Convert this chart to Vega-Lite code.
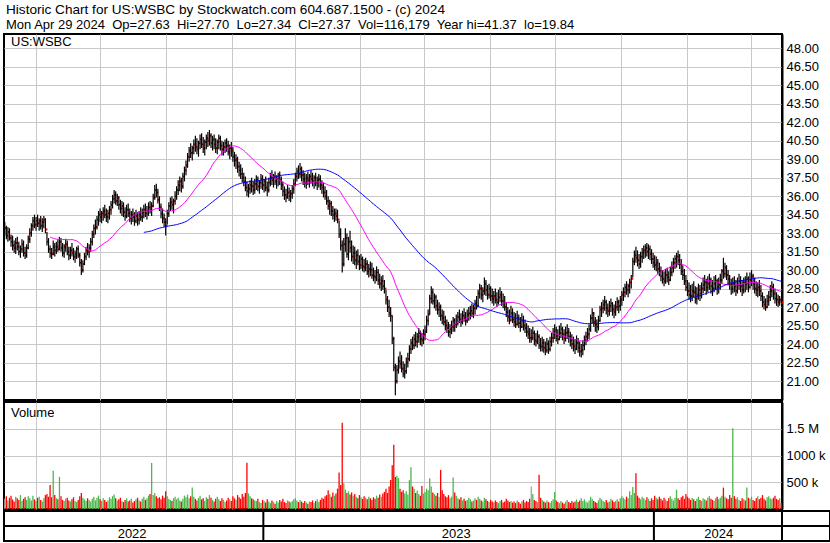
{
"$schema":"https://vega.github.io/schema/vega-lite/v6.json",
"background":"white",
"padding":{"left":2,"top":3,"right":2,"bottom":2},
"spacing":2,
"bounds":"flush",
"config":{"font":"Liberation Sans","view":{"stroke":"black","strokeWidth":2},
"axis":{"gridColor":"#c8c8c8","gridWidth":1,"gridOpacity":1,"labelFont":"Liberation Sans","labelFontSize":13,"labelColor":"black","ticks":false,"tickSize":0,"domain":false,"title":null,"labelOverlap":false,"labelSeparation":-60},
"axisY":{"labelOverlap":false,"labelSeparation":-60},
"axisRight":{"labelOverlap":false,"labelSeparation":-60}},
"title":{"text":"Historic Chart for US:WSBC by Stockwatch.com 604.687.1500 - (c) 2024","subtitle":"Mon Apr 29 2024\u00a0 Op=27.63\u00a0 Hi=27.70\u00a0 Lo=27.34\u00a0 Cl=27.37\u00a0 Vol=116,179\u00a0 Year hi=41.37\u00a0 lo=19.84","anchor":"start","frame":"group","font":"Liberation Sans","fontSize":13.6,"fontWeight":"normal","color":"black","subtitleFont":"Liberation Sans","subtitleFontSize":13,"subtitleColor":"black","subtitlePadding":2,"offset":1,"dx":2},
"datasets":{
"yr":[{"y":"2022","m":81.5,"e":165.5},{"y":"2023","m":289,"e":415.5},{"y":"2024","m":457,"e":497.5}],
"px":[
{"i":0,"h":33.9,"l":32.8,"c":33.4,"v":190},{"i":1,"h":33.6,"l":32.5,"c":32.8,"v":240},{"i":2,"h":33.5,"l":32.3,"c":33.1,"v":160},{"i":3,"h":33.4,"l":32.4,"c":32.6,"v":210},{"i":4,"h":32.9,"l":31.9,"c":32.3,"v":250},{"i":5,"h":32.8,"l":31.6,"c":32.0,"v":180},{"i":6,"h":32.4,"l":31.4,"c":31.8,"v":140},{"i":7,"h":32.6,"l":31.3,"c":32.2,"v":230},{"i":8,"h":32.7,"l":31.6,"c":31.9,"v":200},{"i":9,"h":32.3,"l":31.2,"c":31.5,"v":170},
{"i":10,"h":32.0,"l":31.0,"c":31.7,"v":260},{"i":11,"h":32.5,"l":31.4,"c":32.1,"v":150},{"i":12,"h":32.4,"l":31.1,"c":31.4,"v":190},{"i":13,"h":31.9,"l":30.9,"c":31.2,"v":220},{"i":14,"h":32.1,"l":31.0,"c":31.8,"v":170},{"i":15,"h":32.8,"l":31.7,"c":32.5,"v":240},{"i":16,"h":33.4,"l":32.2,"c":33.0,"v":200},{"i":17,"h":33.8,"l":32.7,"c":33.6,"v":160},{"i":18,"h":34.3,"l":33.2,"c":34.0,"v":250},{"i":19,"h":34.5,"l":33.4,"c":33.7,"v":180},
{"i":20,"h":34.3,"l":33.2,"c":34.0,"v":150},{"i":21,"h":34.5,"l":33.5,"c":33.8,"v":210},{"i":22,"h":34.2,"l":33.2,"c":34.0,"v":230},{"i":23,"h":34.4,"l":33.3,"c":33.6,"v":170},{"i":24,"h":34.2,"l":33.1,"c":33.9,"v":140},{"i":25,"h":34.4,"l":33.4,"c":34.1,"v":200},{"i":26,"h":34.2,"l":33.0,"c":33.3,"v":260},{"i":27,"h":33.1,"l":32.0,"c":32.3,"v":280},{"i":28,"h":32.6,"l":31.4,"c":31.7,"v":230},{"i":29,"h":32.0,"l":31.0,"c":31.4,"v":450},
{"i":30,"h":31.8,"l":30.9,"c":31.3,"v":220},{"i":31,"h":32.4,"l":31.2,"c":31.9,"v":716},{"i":32,"h":32.2,"l":31.1,"c":31.6,"v":260},{"i":33,"h":32.3,"l":31.3,"c":31.9,"v":200},{"i":34,"h":32.5,"l":31.5,"c":31.7,"v":180},{"i":35,"h":32.7,"l":31.6,"c":32.3,"v":600},{"i":36,"h":32.6,"l":31.5,"c":31.8,"v":240},{"i":37,"h":32.2,"l":31.1,"c":31.4,"v":170},{"i":38,"h":32.1,"l":31.0,"c":31.9,"v":150},{"i":39,"h":32.5,"l":31.5,"c":32.1,"v":190},
{"i":40,"h":32.4,"l":31.2,"c":31.5,"v":210},{"i":41,"h":31.9,"l":30.8,"c":31.2,"v":160},{"i":42,"h":31.9,"l":30.9,"c":31.6,"v":140},{"i":43,"h":32.2,"l":31.1,"c":31.4,"v":180},{"i":44,"h":31.8,"l":30.8,"c":31.1,"v":220},{"i":45,"h":31.6,"l":30.6,"c":31.3,"v":150},{"i":46,"h":31.9,"l":30.9,"c":31.7,"v":130},{"i":47,"h":32.0,"l":31.0,"c":31.2,"v":170},{"i":48,"h":31.4,"l":30.3,"c":30.6,"v":240},{"i":49,"h":30.9,"l":29.6,"c":30.0,"v":300},
{"i":50,"h":30.8,"l":29.8,"c":30.5,"v":210},{"i":51,"h":31.4,"l":30.4,"c":31.1,"v":180},{"i":52,"h":31.9,"l":30.8,"c":31.6,"v":150},{"i":53,"h":32.2,"l":31.2,"c":31.5,"v":200},{"i":54,"h":32.1,"l":31.0,"c":31.8,"v":170},{"i":55,"h":32.6,"l":31.5,"c":32.3,"v":140},{"i":56,"h":33.2,"l":32.0,"c":32.9,"v":190},{"i":57,"h":33.7,"l":32.6,"c":33.4,"v":230},{"i":58,"h":34.1,"l":32.9,"c":33.5,"v":160},{"i":59,"h":34.4,"l":33.3,"c":34.1,"v":210},
{"i":60,"h":34.8,"l":33.6,"c":34.5,"v":250},{"i":61,"h":35.0,"l":33.9,"c":34.3,"v":180},{"i":62,"h":34.8,"l":33.8,"c":34.6,"v":150},{"i":63,"h":35.1,"l":34.0,"c":34.8,"v":200},{"i":64,"h":35.3,"l":34.2,"c":34.5,"v":170},{"i":65,"h":35.0,"l":33.9,"c":34.3,"v":130},{"i":66,"h":34.9,"l":33.8,"c":34.6,"v":160},{"i":67,"h":35.2,"l":34.1,"c":34.9,"v":220},{"i":68,"h":35.6,"l":34.5,"c":35.3,"v":190},{"i":69,"h":36.1,"l":35.0,"c":35.8,"v":240},
{"i":70,"h":36.5,"l":35.4,"c":36.1,"v":270},{"i":71,"h":36.4,"l":35.3,"c":35.6,"v":200},{"i":72,"h":36.2,"l":35.2,"c":35.9,"v":160},{"i":73,"h":36.0,"l":34.9,"c":35.3,"v":180},{"i":74,"h":35.7,"l":34.6,"c":35.0,"v":210},{"i":75,"h":35.6,"l":34.4,"c":35.2,"v":150},{"i":76,"h":35.5,"l":34.3,"c":34.7,"v":130},{"i":77,"h":35.1,"l":34.0,"c":34.4,"v":170},{"i":78,"h":35.3,"l":34.2,"c":34.9,"v":200},{"i":79,"h":35.4,"l":34.3,"c":34.6,"v":140},
{"i":80,"h":35.0,"l":33.9,"c":34.2,"v":160},{"i":81,"h":34.8,"l":33.7,"c":34.5,"v":190},{"i":82,"h":35.0,"l":33.9,"c":34.3,"v":120},{"i":83,"h":34.7,"l":33.6,"c":34.0,"v":150},{"i":84,"h":34.9,"l":33.8,"c":34.4,"v":180},{"i":85,"h":34.7,"l":33.6,"c":34.1,"v":210},{"i":86,"h":34.8,"l":33.7,"c":34.5,"v":160},{"i":87,"h":35.1,"l":34.0,"c":34.3,"v":140},{"i":88,"h":35.0,"l":33.9,"c":34.7,"v":190},{"i":89,"h":35.3,"l":34.2,"c":34.9,"v":230},
{"i":90,"h":35.4,"l":34.3,"c":34.6,"v":170},{"i":91,"h":35.2,"l":34.1,"c":34.8,"v":200},{"i":92,"h":35.5,"l":34.4,"c":35.1,"v":250},{"i":93,"h":35.6,"l":34.6,"c":34.9,"v":280},{"i":94,"h":35.5,"l":34.4,"c":35.2,"v":860},{"i":95,"h":36.2,"l":35.1,"c":35.9,"v":260},{"i":96,"h":36.9,"l":35.7,"c":36.5,"v":300},{"i":97,"h":37.0,"l":35.9,"c":36.3,"v":240},{"i":98,"h":36.6,"l":35.4,"c":35.7,"v":200},{"i":99,"h":36.0,"l":34.8,"c":35.1,"v":220},
{"i":100,"h":35.4,"l":34.2,"c":34.6,"v":180},{"i":101,"h":35.0,"l":33.8,"c":34.2,"v":250},{"i":102,"h":34.6,"l":33.5,"c":33.9,"v":210},{"i":103,"h":34.2,"l":32.8,"c":33.6,"v":330},{"i":104,"h":34.9,"l":33.7,"c":34.6,"v":240},{"i":105,"h":35.5,"l":34.3,"c":35.2,"v":190},{"i":106,"h":35.9,"l":34.8,"c":35.5,"v":170},{"i":107,"h":36.0,"l":34.9,"c":35.3,"v":150},{"i":108,"h":35.8,"l":34.6,"c":35.6,"v":200},{"i":109,"h":36.4,"l":35.3,"c":36.0,"v":230},
{"i":110,"h":36.8,"l":35.7,"c":36.5,"v":180},{"i":111,"h":37.3,"l":36.1,"c":36.9,"v":210},{"i":112,"h":37.6,"l":36.4,"c":37.2,"v":160},{"i":113,"h":37.5,"l":36.3,"c":36.8,"v":140},{"i":114,"h":37.9,"l":36.6,"c":37.6,"v":190},{"i":115,"h":38.4,"l":37.2,"c":38.1,"v":250},{"i":116,"h":38.9,"l":37.7,"c":38.5,"v":220},{"i":117,"h":39.5,"l":38.3,"c":39.2,"v":270},{"i":118,"h":40.0,"l":38.8,"c":39.7,"v":200},{"i":119,"h":40.3,"l":39.1,"c":39.5,"v":240},
{"i":120,"h":40.1,"l":38.9,"c":39.9,"v":400},{"i":121,"h":40.6,"l":39.4,"c":40.2,"v":230},{"i":122,"h":40.9,"l":39.6,"c":40.0,"v":190},{"i":123,"h":40.7,"l":39.4,"c":39.8,"v":160},{"i":124,"h":40.5,"l":39.2,"c":40.3,"v":210},{"i":125,"h":41.0,"l":39.8,"c":40.6,"v":250},{"i":126,"h":41.1,"l":39.9,"c":40.2,"v":180},{"i":127,"h":40.8,"l":39.5,"c":39.9,"v":200},{"i":128,"h":40.6,"l":39.3,"c":40.4,"v":150},{"i":129,"h":41.0,"l":39.8,"c":40.7,"v":220},
{"i":130,"h":41.2,"l":40.0,"c":40.5,"v":190},{"i":131,"h":41.37,"l":40.1,"c":40.9,"v":260},{"i":132,"h":41.1,"l":39.9,"c":40.3,"v":210},{"i":133,"h":40.9,"l":39.7,"c":40.6,"v":170},{"i":134,"h":41.0,"l":39.8,"c":40.2,"v":140},{"i":135,"h":40.7,"l":39.5,"c":39.9,"v":190},{"i":136,"h":40.6,"l":39.4,"c":40.4,"v":230},{"i":137,"h":41.0,"l":39.8,"c":40.7,"v":180},{"i":138,"h":40.9,"l":39.7,"c":40.1,"v":150},{"i":139,"h":40.5,"l":39.3,"c":39.8,"v":200},
{"i":140,"h":40.4,"l":39.3,"c":40.0,"v":170},{"i":141,"h":40.6,"l":39.5,"c":40.3,"v":130},{"i":142,"h":40.7,"l":39.6,"c":40.1,"v":160},{"i":143,"h":40.5,"l":39.3,"c":39.6,"v":210},{"i":144,"h":40.2,"l":39.0,"c":39.9,"v":180},{"i":145,"h":40.4,"l":39.2,"c":39.7,"v":150},{"i":146,"h":40.0,"l":38.8,"c":39.2,"v":240},{"i":147,"h":39.6,"l":38.4,"c":38.9,"v":200},{"i":148,"h":39.4,"l":38.2,"c":39.0,"v":170},{"i":149,"h":39.2,"l":37.9,"c":38.4,"v":260},
{"i":150,"h":38.8,"l":37.6,"c":38.1,"v":220},{"i":151,"h":38.6,"l":37.4,"c":37.8,"v":190},{"i":152,"h":38.3,"l":37.1,"c":37.5,"v":280},{"i":153,"h":37.9,"l":36.8,"c":37.2,"v":230},{"i":154,"h":37.6,"l":36.4,"c":36.7,"v":300},{"i":155,"h":37.2,"l":36.0,"c":36.4,"v":865},{"i":156,"h":37.0,"l":35.9,"c":36.6,"v":290},{"i":157,"h":37.3,"l":36.2,"c":36.9,"v":240},{"i":158,"h":37.5,"l":36.3,"c":36.8,"v":200},{"i":159,"h":37.2,"l":36.1,"c":36.5,"v":180},
{"i":160,"h":37.4,"l":36.2,"c":37.0,"v":160},{"i":161,"h":37.7,"l":36.5,"c":37.3,"v":150},{"i":162,"h":37.6,"l":36.4,"c":36.8,"v":190},{"i":163,"h":37.3,"l":36.2,"c":37.1,"v":130},{"i":164,"h":37.8,"l":36.6,"c":37.4,"v":110},{"i":165,"h":37.7,"l":36.5,"c":36.9,"v":170},{"i":166,"h":37.4,"l":36.3,"c":37.2,"v":150},{"i":167,"h":37.6,"l":36.4,"c":36.7,"v":120},{"i":168,"h":37.2,"l":36.0,"c":36.5,"v":180},{"i":169,"h":37.5,"l":36.3,"c":37.1,"v":140},
{"i":170,"h":37.9,"l":36.8,"c":37.5,"v":110},{"i":171,"h":38.1,"l":36.9,"c":37.3,"v":160},{"i":172,"h":37.8,"l":36.7,"c":37.6,"v":130},{"i":173,"h":38.0,"l":36.9,"c":37.2,"v":100},{"i":174,"h":37.7,"l":36.6,"c":37.4,"v":150},{"i":175,"h":37.9,"l":36.8,"c":37.7,"v":120},{"i":176,"h":38.0,"l":36.9,"c":37.3,"v":170},{"i":177,"h":37.6,"l":36.5,"c":36.9,"v":140},{"i":178,"h":37.2,"l":36.0,"c":36.4,"v":190},{"i":179,"h":36.8,"l":35.7,"c":36.1,"v":130},
{"i":180,"h":36.6,"l":35.5,"c":35.9,"v":110},{"i":181,"h":36.9,"l":35.8,"c":36.3,"v":160},{"i":182,"h":36.7,"l":35.6,"c":36.0,"v":140},{"i":183,"h":36.5,"l":35.5,"c":36.2,"v":120},{"i":184,"h":36.9,"l":35.8,"c":36.6,"v":150},{"i":185,"h":37.4,"l":36.2,"c":37.0,"v":180},{"i":186,"h":37.9,"l":36.8,"c":37.6,"v":200},{"i":187,"h":38.3,"l":37.2,"c":38.0,"v":160},{"i":188,"h":38.5,"l":37.4,"c":37.8,"v":130},{"i":189,"h":38.7,"l":37.5,"c":38.2,"v":170},
{"i":190,"h":38.4,"l":37.2,"c":37.7,"v":140},{"i":191,"h":38.1,"l":36.9,"c":37.4,"v":110},{"i":192,"h":37.9,"l":36.7,"c":37.1,"v":150},{"i":193,"h":37.8,"l":36.6,"c":37.5,"v":120},{"i":194,"h":38.0,"l":36.9,"c":37.3,"v":100},{"i":195,"h":37.8,"l":36.7,"c":37.6,"v":140},{"i":196,"h":38.1,"l":37.0,"c":37.4,"v":130},{"i":197,"h":37.9,"l":36.8,"c":37.2,"v":160},{"i":198,"h":37.7,"l":36.6,"c":37.5,"v":110},{"i":199,"h":37.9,"l":36.8,"c":37.1,"v":150},
{"i":200,"h":37.6,"l":36.5,"c":37.3,"v":180},{"i":201,"h":37.8,"l":36.7,"c":37.4,"v":130},{"i":202,"h":37.7,"l":36.5,"c":36.9,"v":170},{"i":203,"h":37.3,"l":36.2,"c":36.7,"v":210},{"i":204,"h":37.1,"l":35.9,"c":36.3,"v":190},{"i":205,"h":36.8,"l":35.7,"c":36.0,"v":240},{"i":206,"h":36.5,"l":35.3,"c":35.6,"v":260},{"i":207,"h":36.0,"l":34.9,"c":35.2,"v":350},{"i":208,"h":35.7,"l":34.5,"c":35.4,"v":280},{"i":209,"h":35.6,"l":34.4,"c":34.8,"v":230},
{"i":210,"h":35.2,"l":34.1,"c":34.5,"v":310},{"i":211,"h":35.0,"l":33.9,"c":34.6,"v":250},{"i":212,"h":35.0,"l":34.0,"c":34.4,"v":290},{"i":213,"h":34.9,"l":33.8,"c":34.1,"v":380},{"i":214,"h":34.0,"l":32.6,"c":32.9,"v":680},{"i":215,"h":33.4,"l":31.6,"c":32.0,"v":450},{"i":216,"h":32.4,"l":29.8,"c":30.5,"v":1610},{"i":217,"h":32.6,"l":30.3,"c":32.1,"v":480},{"i":218,"h":33.4,"l":31.5,"c":32.6,"v":360},{"i":219,"h":33.0,"l":31.0,"c":31.3,"v":300},
{"i":220,"h":32.7,"l":30.8,"c":32.3,"v":330},{"i":221,"h":33.2,"l":31.4,"c":31.8,"v":270},{"i":222,"h":32.4,"l":30.7,"c":31.1,"v":310},{"i":223,"h":32.0,"l":30.5,"c":31.4,"v":250},{"i":224,"h":31.9,"l":30.4,"c":30.8,"v":280},{"i":225,"h":31.6,"l":30.1,"c":31.2,"v":230},{"i":226,"h":31.7,"l":30.4,"c":30.7,"v":200},{"i":227,"h":31.2,"l":30.0,"c":30.4,"v":260},{"i":228,"h":31.3,"l":30.1,"c":30.9,"v":220},{"i":229,"h":31.1,"l":29.9,"c":30.3,"v":190},
{"i":230,"h":30.9,"l":29.8,"c":30.2,"v":240},{"i":231,"h":31.0,"l":29.9,"c":30.5,"v":210},{"i":232,"h":30.8,"l":29.6,"c":29.9,"v":180},{"i":233,"h":30.5,"l":29.4,"c":30.1,"v":230},{"i":234,"h":30.7,"l":29.5,"c":30.0,"v":200},{"i":235,"h":30.6,"l":29.3,"c":29.6,"v":170},{"i":236,"h":30.2,"l":29.1,"c":29.5,"v":220},{"i":237,"h":30.0,"l":28.9,"c":29.4,"v":190},{"i":238,"h":30.3,"l":29.1,"c":29.8,"v":250},{"i":239,"h":30.1,"l":28.8,"c":29.2,"v":210},
{"i":240,"h":29.7,"l":28.5,"c":28.9,"v":270},{"i":241,"h":29.5,"l":28.3,"c":29.1,"v":230},{"i":242,"h":29.6,"l":28.4,"c":28.7,"v":290},{"i":243,"h":29.2,"l":28.1,"c":28.5,"v":320},{"i":244,"h":28.4,"l":27.2,"c":27.6,"v":380},{"i":245,"h":27.9,"l":26.6,"c":27.0,"v":300},{"i":246,"h":27.6,"l":26.2,"c":26.5,"v":420},{"i":247,"h":27.0,"l":25.8,"c":26.3,"v":540},{"i":248,"h":26.3,"l":24.0,"c":24.4,"v":820},{"i":249,"h":24.6,"l":21.8,"c":22.1,"v":1200},
{"i":250,"h":22.4,"l":19.84,"c":21.0,"v":600},{"i":251,"h":22.3,"l":20.8,"c":21.9,"v":620},{"i":252,"h":23.0,"l":21.6,"c":22.6,"v":580},{"i":253,"h":23.4,"l":22.0,"c":22.4,"v":380},{"i":254,"h":23.1,"l":21.7,"c":22.0,"v":320},{"i":255,"h":22.6,"l":21.3,"c":21.6,"v":350},{"i":256,"h":22.4,"l":21.2,"c":21.8,"v":290},{"i":257,"h":22.9,"l":21.6,"c":22.5,"v":330},{"i":258,"h":23.3,"l":22.1,"c":22.8,"v":270},{"i":259,"h":23.9,"l":22.6,"c":23.6,"v":540},
{"i":260,"h":24.4,"l":23.2,"c":24.1,"v":780},{"i":261,"h":24.6,"l":23.5,"c":23.9,"v":420},{"i":262,"h":24.8,"l":23.6,"c":24.4,"v":380},{"i":263,"h":25.0,"l":23.8,"c":24.2,"v":300},{"i":264,"h":24.9,"l":23.7,"c":24.6,"v":340},{"i":265,"h":25.3,"l":24.1,"c":24.9,"v":280},{"i":266,"h":25.1,"l":23.9,"c":24.4,"v":250},{"i":267,"h":24.9,"l":23.8,"c":24.3,"v":430},{"i":268,"h":25.2,"l":24.0,"c":24.8,"v":290},{"i":269,"h":25.5,"l":24.3,"c":25.0,"v":320},
{"i":270,"h":26.3,"l":24.9,"c":25.9,"v":380},{"i":271,"h":26.8,"l":25.5,"c":26.4,"v":350},{"i":272,"h":28.0,"l":26.4,"c":27.7,"v":575},{"i":273,"h":28.7,"l":27.3,"c":28.2,"v":420},{"i":274,"h":28.5,"l":27.2,"c":27.5,"v":310},{"i":275,"h":28.1,"l":26.9,"c":27.8,"v":280},{"i":276,"h":28.0,"l":26.7,"c":27.1,"v":250},{"i":277,"h":27.6,"l":26.4,"c":26.8,"v":300},{"i":278,"h":27.4,"l":26.2,"c":27.0,"v":230},{"i":279,"h":27.2,"l":25.9,"c":26.3,"v":730},
{"i":280,"h":26.8,"l":25.6,"c":26.1,"v":350},{"i":281,"h":26.7,"l":25.5,"c":25.8,"v":280},{"i":282,"h":26.3,"l":25.1,"c":25.5,"v":240},{"i":283,"h":26.0,"l":24.9,"c":25.3,"v":220},{"i":284,"h":25.8,"l":24.6,"c":25.0,"v":260},{"i":285,"h":25.6,"l":24.5,"c":25.2,"v":200},{"i":286,"h":25.9,"l":24.8,"c":25.4,"v":230},{"i":287,"h":26.2,"l":25.0,"c":25.9,"v":590},{"i":288,"h":26.1,"l":25.0,"c":25.6,"v":310},{"i":289,"h":26.4,"l":25.3,"c":25.7,"v":250},
{"i":290,"h":26.6,"l":25.5,"c":26.2,"v":200},{"i":291,"h":26.8,"l":25.7,"c":26.0,"v":180},{"i":292,"h":26.5,"l":25.4,"c":25.8,"v":220},{"i":293,"h":26.7,"l":25.6,"c":26.3,"v":160},{"i":294,"h":26.9,"l":25.8,"c":26.1,"v":190},{"i":295,"h":26.6,"l":25.5,"c":25.9,"v":150},{"i":296,"h":26.8,"l":25.7,"c":26.4,"v":170},{"i":297,"h":27.0,"l":25.9,"c":26.5,"v":210},{"i":298,"h":27.1,"l":26.0,"c":26.7,"v":180},{"i":299,"h":27.3,"l":26.2,"c":26.5,"v":140},
{"i":300,"h":27.2,"l":26.1,"c":26.9,"v":160},{"i":301,"h":27.6,"l":26.4,"c":27.3,"v":200},{"i":302,"h":27.9,"l":26.8,"c":27.1,"v":170},{"i":303,"h":28.4,"l":27.0,"c":28.1,"v":230},{"i":304,"h":28.9,"l":27.7,"c":28.5,"v":190},{"i":305,"h":28.8,"l":27.6,"c":28.0,"v":160},{"i":306,"h":28.6,"l":27.4,"c":28.3,"v":140},{"i":307,"h":29.4,"l":28.0,"c":28.9,"v":210},{"i":308,"h":29.2,"l":27.9,"c":28.4,"v":180},{"i":309,"h":28.8,"l":27.6,"c":28.0,"v":150},
{"i":310,"h":28.9,"l":27.7,"c":28.5,"v":130},{"i":311,"h":28.7,"l":27.5,"c":27.9,"v":170},{"i":312,"h":28.5,"l":27.3,"c":27.7,"v":140},{"i":313,"h":28.3,"l":27.1,"c":27.9,"v":120},{"i":314,"h":28.5,"l":27.3,"c":27.6,"v":160},{"i":315,"h":28.2,"l":27.0,"c":27.4,"v":130},{"i":316,"h":28.4,"l":27.2,"c":27.8,"v":110},{"i":317,"h":28.6,"l":27.4,"c":28.0,"v":150},{"i":318,"h":28.3,"l":27.1,"c":27.5,"v":170},{"i":319,"h":28.1,"l":26.9,"c":27.3,"v":120},
{"i":320,"h":27.9,"l":26.7,"c":27.0,"v":140},{"i":321,"h":27.4,"l":26.2,"c":26.6,"v":190},{"i":322,"h":27.0,"l":25.8,"c":26.2,"v":160},{"i":323,"h":26.8,"l":25.6,"c":25.9,"v":130},{"i":324,"h":27.1,"l":25.9,"c":26.5,"v":150},{"i":325,"h":26.9,"l":25.7,"c":26.0,"v":120},{"i":326,"h":26.6,"l":25.4,"c":25.8,"v":140},{"i":327,"h":26.5,"l":25.3,"c":25.6,"v":110},{"i":328,"h":26.7,"l":25.5,"c":26.1,"v":160},{"i":329,"h":26.4,"l":25.3,"c":25.7,"v":130},
{"i":330,"h":26.2,"l":25.0,"c":25.4,"v":100},{"i":331,"h":26.5,"l":25.3,"c":25.9,"v":140},{"i":332,"h":26.3,"l":25.1,"c":25.5,"v":170},{"i":333,"h":26.0,"l":24.9,"c":25.3,"v":120},{"i":334,"h":25.7,"l":24.6,"c":25.0,"v":150},{"i":335,"h":25.5,"l":24.4,"c":24.8,"v":130},{"i":336,"h":25.3,"l":24.1,"c":24.5,"v":190},{"i":337,"h":25.2,"l":24.1,"c":24.5,"v":420},{"i":338,"h":25.4,"l":24.3,"c":24.9,"v":280},{"i":339,"h":25.1,"l":23.9,"c":24.3,"v":170},
{"i":340,"h":24.9,"l":23.8,"c":24.2,"v":150},{"i":341,"h":25.1,"l":24.0,"c":24.6,"v":130},{"i":342,"h":24.8,"l":23.6,"c":23.9,"v":640},{"i":343,"h":24.5,"l":23.4,"c":23.8,"v":210},{"i":344,"h":24.6,"l":23.4,"c":24.1,"v":170},{"i":345,"h":24.4,"l":23.3,"c":23.7,"v":140},{"i":346,"h":24.2,"l":23.1,"c":23.5,"v":120},{"i":347,"h":24.5,"l":23.3,"c":24.0,"v":160},{"i":348,"h":24.3,"l":23.2,"c":23.6,"v":130},{"i":349,"h":24.6,"l":23.4,"c":24.2,"v":110},
{"i":350,"h":24.9,"l":23.8,"c":24.5,"v":150},{"i":351,"h":25.3,"l":24.1,"c":24.8,"v":180},{"i":352,"h":25.6,"l":24.4,"c":25.1,"v":320},{"i":353,"h":25.4,"l":24.2,"c":24.7,"v":160},{"i":354,"h":25.2,"l":24.0,"c":24.4,"v":130},{"i":355,"h":25.5,"l":24.3,"c":24.9,"v":110},{"i":356,"h":25.7,"l":24.5,"c":25.2,"v":150},{"i":357,"h":25.4,"l":24.3,"c":24.8,"v":120},{"i":358,"h":25.2,"l":24.0,"c":24.5,"v":100},{"i":359,"h":25.4,"l":24.2,"c":24.9,"v":140},
{"i":360,"h":25.6,"l":24.4,"c":25.0,"v":170},{"i":361,"h":25.3,"l":24.1,"c":24.6,"v":130},{"i":362,"h":25.0,"l":23.8,"c":24.3,"v":110},{"i":363,"h":24.8,"l":23.6,"c":24.0,"v":150},{"i":364,"h":24.6,"l":23.4,"c":23.8,"v":120},{"i":365,"h":24.4,"l":23.2,"c":23.6,"v":140},{"i":366,"h":24.7,"l":23.5,"c":24.1,"v":180},{"i":367,"h":24.5,"l":23.3,"c":23.7,"v":130},{"i":368,"h":24.2,"l":23.0,"c":23.4,"v":160},{"i":369,"h":24.0,"l":22.9,"c":23.5,"v":200},
{"i":370,"h":24.3,"l":23.1,"c":23.9,"v":150},{"i":371,"h":24.7,"l":23.5,"c":24.3,"v":180},{"i":372,"h":25.0,"l":23.9,"c":24.6,"v":140},{"i":373,"h":25.3,"l":24.2,"c":24.8,"v":120},{"i":374,"h":25.6,"l":24.4,"c":25.2,"v":160},{"i":375,"h":26.4,"l":25.0,"c":26.1,"v":230},{"i":376,"h":26.9,"l":25.7,"c":26.5,"v":190},{"i":377,"h":26.6,"l":25.4,"c":25.8,"v":150},{"i":378,"h":26.2,"l":25.0,"c":25.6,"v":130},{"i":379,"h":26.0,"l":24.9,"c":25.4,"v":110},
{"i":380,"h":26.3,"l":25.1,"c":25.9,"v":160},{"i":381,"h":27.1,"l":25.8,"c":26.8,"v":210},{"i":382,"h":27.4,"l":26.2,"c":26.9,"v":180},{"i":383,"h":27.6,"l":26.5,"c":27.2,"v":150},{"i":384,"h":27.9,"l":26.7,"c":27.4,"v":130},{"i":385,"h":27.6,"l":26.4,"c":26.9,"v":170},{"i":386,"h":27.3,"l":26.2,"c":26.7,"v":120},{"i":387,"h":27.5,"l":26.3,"c":27.1,"v":140},{"i":388,"h":27.7,"l":26.6,"c":27.3,"v":190},{"i":389,"h":27.4,"l":26.3,"c":26.8,"v":160},
{"i":390,"h":27.2,"l":26.1,"c":26.6,"v":130},{"i":391,"h":27.5,"l":26.3,"c":27.0,"v":150},{"i":392,"h":27.8,"l":26.7,"c":27.4,"v":180},{"i":393,"h":27.6,"l":26.5,"c":27.1,"v":140},{"i":394,"h":27.9,"l":26.7,"c":27.6,"v":200},{"i":395,"h":28.3,"l":27.1,"c":28.0,"v":240},{"i":396,"h":28.6,"l":27.5,"c":28.2,"v":210},{"i":397,"h":28.9,"l":27.8,"c":28.6,"v":180},{"i":398,"h":29.1,"l":28.0,"c":28.4,"v":230},{"i":399,"h":28.9,"l":27.8,"c":28.7,"v":200},
{"i":400,"h":29.3,"l":28.1,"c":29.0,"v":330},{"i":401,"h":29.6,"l":28.5,"c":29.3,"v":260},{"i":402,"h":31.0,"l":29.4,"c":30.7,"v":410},{"i":403,"h":31.6,"l":30.4,"c":31.2,"v":300},{"i":404,"h":31.9,"l":30.6,"c":31.0,"v":670},{"i":405,"h":31.6,"l":30.3,"c":30.8,"v":250},{"i":406,"h":31.3,"l":30.1,"c":30.5,"v":210},{"i":407,"h":31.5,"l":30.2,"c":31.1,"v":180},{"i":408,"h":31.8,"l":30.6,"c":31.4,"v":230},{"i":409,"h":32.0,"l":30.9,"c":31.6,"v":200},
{"i":410,"h":32.1,"l":31.0,"c":31.8,"v":170},{"i":411,"h":32.2,"l":31.1,"c":31.5,"v":220},{"i":412,"h":32.1,"l":30.9,"c":31.7,"v":190},{"i":413,"h":32.0,"l":30.8,"c":31.3,"v":150},{"i":414,"h":31.7,"l":30.5,"c":30.9,"v":200},{"i":415,"h":31.4,"l":30.2,"c":30.6,"v":170},{"i":416,"h":31.2,"l":30.0,"c":30.4,"v":250},{"i":417,"h":31.1,"l":29.9,"c":30.6,"v":210},{"i":418,"h":30.9,"l":29.7,"c":30.1,"v":180},{"i":419,"h":30.6,"l":29.5,"c":29.9,"v":230},
{"i":420,"h":30.3,"l":29.1,"c":29.5,"v":190},{"i":421,"h":30.0,"l":28.9,"c":29.3,"v":160},{"i":422,"h":29.9,"l":28.7,"c":29.1,"v":210},{"i":423,"h":30.1,"l":28.9,"c":29.6,"v":180},{"i":424,"h":30.2,"l":29.0,"c":29.4,"v":150},{"i":425,"h":29.9,"l":28.8,"c":29.2,"v":200},{"i":426,"h":30.3,"l":29.1,"c":29.8,"v":240},{"i":427,"h":30.7,"l":29.5,"c":30.2,"v":190},{"i":428,"h":31.0,"l":29.8,"c":30.6,"v":160},{"i":429,"h":31.2,"l":30.1,"c":30.9,"v":210},
{"i":430,"h":31.4,"l":30.2,"c":31.1,"v":360},{"i":431,"h":31.6,"l":30.4,"c":30.8,"v":200},{"i":432,"h":31.3,"l":30.1,"c":30.5,"v":170},{"i":433,"h":30.9,"l":29.6,"c":29.9,"v":220},{"i":434,"h":30.4,"l":29.2,"c":29.6,"v":250},{"i":435,"h":30.1,"l":28.8,"c":29.1,"v":190},{"i":436,"h":29.6,"l":28.3,"c":28.6,"v":280},{"i":437,"h":29.2,"l":27.9,"c":28.3,"v":230},{"i":438,"h":29.0,"l":27.6,"c":28.0,"v":200},{"i":439,"h":28.8,"l":27.4,"c":27.9,"v":170},
{"i":440,"h":28.9,"l":27.5,"c":28.3,"v":210},{"i":441,"h":29.1,"l":27.8,"c":28.2,"v":180},{"i":442,"h":28.7,"l":27.3,"c":27.7,"v":150},{"i":443,"h":28.6,"l":27.2,"c":28.0,"v":190},{"i":444,"h":28.9,"l":27.6,"c":28.4,"v":230},{"i":445,"h":28.8,"l":27.5,"c":28.1,"v":170},{"i":446,"h":29.0,"l":27.7,"c":28.5,"v":150},{"i":447,"h":29.4,"l":28.1,"c":28.8,"v":200},{"i":448,"h":29.6,"l":28.3,"c":29.0,"v":180},{"i":449,"h":29.3,"l":28.0,"c":28.6,"v":160},
{"i":450,"h":29.5,"l":28.2,"c":28.9,"v":210},{"i":451,"h":29.7,"l":28.4,"c":29.2,"v":240},{"i":452,"h":29.4,"l":28.1,"c":28.7,"v":190},{"i":453,"h":29.2,"l":27.9,"c":28.5,"v":170},{"i":454,"h":29.5,"l":28.2,"c":28.9,"v":150},{"i":455,"h":29.6,"l":28.4,"c":29.1,"v":200},{"i":456,"h":29.3,"l":28.0,"c":28.6,"v":230},{"i":457,"h":29.4,"l":28.1,"c":28.8,"v":180},{"i":458,"h":29.7,"l":28.4,"c":29.2,"v":210},{"i":459,"h":30.1,"l":28.9,"c":29.9,"v":250},
{"i":460,"h":31.0,"l":29.3,"c":29.7,"v":400},{"i":461,"h":30.6,"l":29.4,"c":30.2,"v":230},{"i":462,"h":30.4,"l":29.2,"c":29.6,"v":200},{"i":463,"h":30.0,"l":28.8,"c":29.3,"v":180},{"i":464,"h":29.6,"l":28.4,"c":28.8,"v":260},{"i":465,"h":29.3,"l":28.0,"c":28.5,"v":210},{"i":466,"h":29.4,"l":28.1,"c":28.9,"v":1510},{"i":467,"h":29.5,"l":28.2,"c":28.7,"v":240},{"i":468,"h":29.2,"l":27.9,"c":28.3,"v":190},{"i":469,"h":29.4,"l":28.1,"c":28.8,"v":220},
{"i":470,"h":29.7,"l":28.4,"c":29.1,"v":170},{"i":471,"h":29.5,"l":28.2,"c":28.7,"v":150},{"i":472,"h":29.2,"l":27.9,"c":28.4,"v":200},{"i":473,"h":29.4,"l":28.1,"c":29.0,"v":180},{"i":474,"h":29.5,"l":28.2,"c":28.9,"v":160},{"i":475,"h":29.8,"l":28.4,"c":29.3,"v":400},{"i":476,"h":29.5,"l":28.2,"c":28.6,"v":210},{"i":477,"h":29.8,"l":28.5,"c":29.2,"v":190},{"i":478,"h":30.0,"l":28.7,"c":29.5,"v":230},{"i":479,"h":29.7,"l":28.4,"c":28.9,"v":170},
{"i":480,"h":29.4,"l":28.1,"c":28.5,"v":150},{"i":481,"h":29.1,"l":27.9,"c":28.4,"v":200},{"i":482,"h":29.0,"l":27.8,"c":28.6,"v":240},{"i":483,"h":29.2,"l":27.9,"c":28.3,"v":180},{"i":484,"h":28.8,"l":27.5,"c":27.9,"v":210},{"i":485,"h":28.2,"l":27.0,"c":27.4,"v":260},{"i":486,"h":27.9,"l":26.8,"c":27.2,"v":190},{"i":487,"h":27.7,"l":26.7,"c":27.0,"v":160},{"i":488,"h":28.0,"l":26.9,"c":27.5,"v":220},{"i":489,"h":28.3,"l":27.1,"c":27.8,"v":240},
{"i":490,"h":28.8,"l":27.5,"c":28.3,"v":200},{"i":491,"h":29.1,"l":27.8,"c":28.6,"v":180},{"i":492,"h":28.9,"l":27.6,"c":28.1,"v":210},{"i":493,"h":28.5,"l":27.3,"c":27.7,"v":250},{"i":494,"h":28.2,"l":27.1,"c":27.6,"v":190},{"i":495,"h":28.0,"l":27.0,"c":27.4,"v":170},{"i":496,"h":27.9,"l":27.1,"c":27.6,"v":200},{"i":497,"h":27.7,"l":27.34,"c":27.37,"v":116}
]},
"vconcat":[
{"width":778,"height":366,
"layer":[
{"data":{"name":"px"},"mark":{"type":"square","size":4,"color":"#ff0000","opacity":1,"filled":true,"xOffset":1},
"encoding":{"x":{"field":"i","type":"quantitative","scale":{"domain":[-0.5,497.5],"nice":false,"zero":false},"axis":{"values":[20,41,61,83.5,103.3,124.4,145.4,165.5,186,205.5,227.5,247.5,268.5,290,310.5,331.5,352.5,373.5,394.5,415.5,436.5,456.5,477.5],"grid":true,"labels":false,"ticks":false,"domain":false,"title":null}},
"y":{"field":"c","type":"quantitative","scale":{"domain":[19.46,49.16],"nice":false,"zero":false},"axis":{"orient":"right","values":[21,22.5,24,25.5,27,28.5,30,31.5,33,34.5,36,37.5,39,40.5,42,43.5,45,46.5,48],"format":".2f","grid":true,"title":null,"labelPadding":4,"labelOverlap":false,"labelSeparation":-60,"labelBound":false,"domain":true,"domainColor":"black","domainWidth":2}}}},
{"data":{"name":"px"},"mark":{"type":"rule","color":"black","strokeWidth":1.2},
"encoding":{"x":{"field":"i","type":"quantitative"},"y":{"field":"l","type":"quantitative","axis":{"orient":"right","values":[21,22.5,24,25.5,27,28.5,30,31.5,33,34.5,36,37.5,39,40.5,42,43.5,45,46.5,48],"format":".2f","grid":true,"title":null,"labelPadding":4,"labelOverlap":false,"labelSeparation":-60,"labelBound":false,"domain":true,"domainColor":"black","domainWidth":2}},"y2":{"field":"h"}}},
{"data":{"name":"px"},"transform":[{"window":[{"op":"mean","field":"c","as":"m30"},{"op":"count","as":"n30"}],"frame":[-29,0],"sort":[{"field":"i"}]},{"filter":"datum.n30 >= 30"}],
"mark":{"type":"line","color":"#ff00ff","strokeWidth":1},"encoding":{"x":{"field":"i","type":"quantitative"},"y":{"field":"m30","type":"quantitative","axis":{"orient":"right","values":[21,22.5,24,25.5,27,28.5,30,31.5,33,34.5,36,37.5,39,40.5,42,43.5,45,46.5,48],"format":".2f","grid":true,"title":null,"labelPadding":4,"labelOverlap":false,"labelSeparation":-60,"labelBound":false,"domain":true,"domainColor":"black","domainWidth":2}}}},
{"data":{"name":"px"},"transform":[{"window":[{"op":"mean","field":"c","as":"m90"},{"op":"count","as":"n90"}],"frame":[-89,0],"sort":[{"field":"i"}]},{"filter":"datum.n90 >= 90"}],
"mark":{"type":"line","color":"#0000ff","strokeWidth":1},"encoding":{"x":{"field":"i","type":"quantitative"},"y":{"field":"m90","type":"quantitative","axis":{"orient":"right","values":[21,22.5,24,25.5,27,28.5,30,31.5,33,34.5,36,37.5,39,40.5,42,43.5,45,46.5,48],"format":".2f","grid":true,"title":null,"labelPadding":4,"labelOverlap":false,"labelSeparation":-60,"labelBound":false,"domain":true,"domainColor":"black","domainWidth":2}}}},
{"data":{"values":[{"t":"US:WSBC","x0":-0.5,"y0":49.16}]},"mark":{"type":"text","align":"left","baseline":"top","dx":7,"dy":2,"fontSize":13,"color":"black"},"encoding":{"x":{"field":"x0","type":"quantitative"},"y":{"field":"y0","type":"quantitative","axis":{"orient":"right","values":[21,22.5,24,25.5,27,28.5,30,31.5,33,34.5,36,37.5,39,40.5,42,43.5,45,46.5,48],"format":".2f","grid":true,"title":null,"labelPadding":4,"labelOverlap":false,"labelSeparation":-60,"labelBound":false,"domain":true,"domainColor":"black","domainWidth":2}},"text":{"field":"t"}}}
]},
{"width":778,"height":107,
"layer":[
{"data":{"name":"px"},
"transform":[{"window":[{"op":"lag","field":"c","as":"pc"}],"sort":[{"field":"i"}]},{"calculate":"datum.pc == null ? 'flat' : (datum.c > datum.pc ? 'up' : (datum.c < datum.pc ? 'down' : 'flat'))","as":"dir"}],
"mark":{"type":"rule","strokeWidth":1.3},
"encoding":{"x":{"field":"i","type":"quantitative","scale":{"domain":[-0.5,497.5],"nice":false,"zero":false},"axis":{"values":[20,41,61,83.5,103.3,124.4,145.4,165.5,186,205.5,227.5,247.5,268.5,290,310.5,331.5,352.5,373.5,394.5,415.5,436.5,456.5,477.5],"grid":true,"labels":false,"ticks":false,"domain":false,"title":null}},
"y":{"field":"v","type":"quantitative","scale":{"domain":[0,2000],"nice":false,"zero":true},"axis":{"orient":"right","values":[500,1000,1500],"labelExpr":"datum.value == 1500 ? '1.5 M' : datum.value + ' k'","grid":true,"title":null,"labelPadding":4,"labelOverlap":false,"domain":true,"domainColor":"black","domainWidth":2}},"y2":{"datum":0},
"color":{"field":"dir","type":"nominal","scale":{"domain":["up","down","flat"],"range":["#4cb84c","#ff0000","#a0a0a0"]},"legend":null}}},
{"data":{"values":[{"t":"Volume","x0":-0.5,"y0":2000}]},"mark":{"type":"text","align":"left","baseline":"top","dx":7,"dy":5,"fontSize":13,"color":"black"},"encoding":{"x":{"field":"x0","type":"quantitative"},"y":{"field":"y0","type":"quantitative"},"text":{"field":"t"}}}
]},
{"width":826,"height":30,
"data":{"name":"yr"},
"layer":[
{"mark":{"type":"rule","color":"black","strokeWidth":2},"encoding":{"x":{"field":"e","type":"quantitative","scale":{"domain":[-0.5,528.22],"nice":false,"zero":false},"axis":null},"y":{"datum":0,"type":"quantitative","scale":{"domain":[0,2],"nice":false},"axis":null},"y2":{"datum":2}}},
{"data":{"values":[{"a":-0.5,"b":528.22}]},"mark":{"type":"rule","color":"black","strokeWidth":2},"encoding":{"x":{"field":"a","type":"quantitative"},"x2":{"field":"b"},"y":{"datum":1}}},
{"mark":{"type":"text","fontSize":13,"baseline":"middle","color":"black"},"encoding":{"x":{"field":"m","type":"quantitative"},"y":{"datum":0.45},"text":{"field":"y"}}}
]}
]
}
